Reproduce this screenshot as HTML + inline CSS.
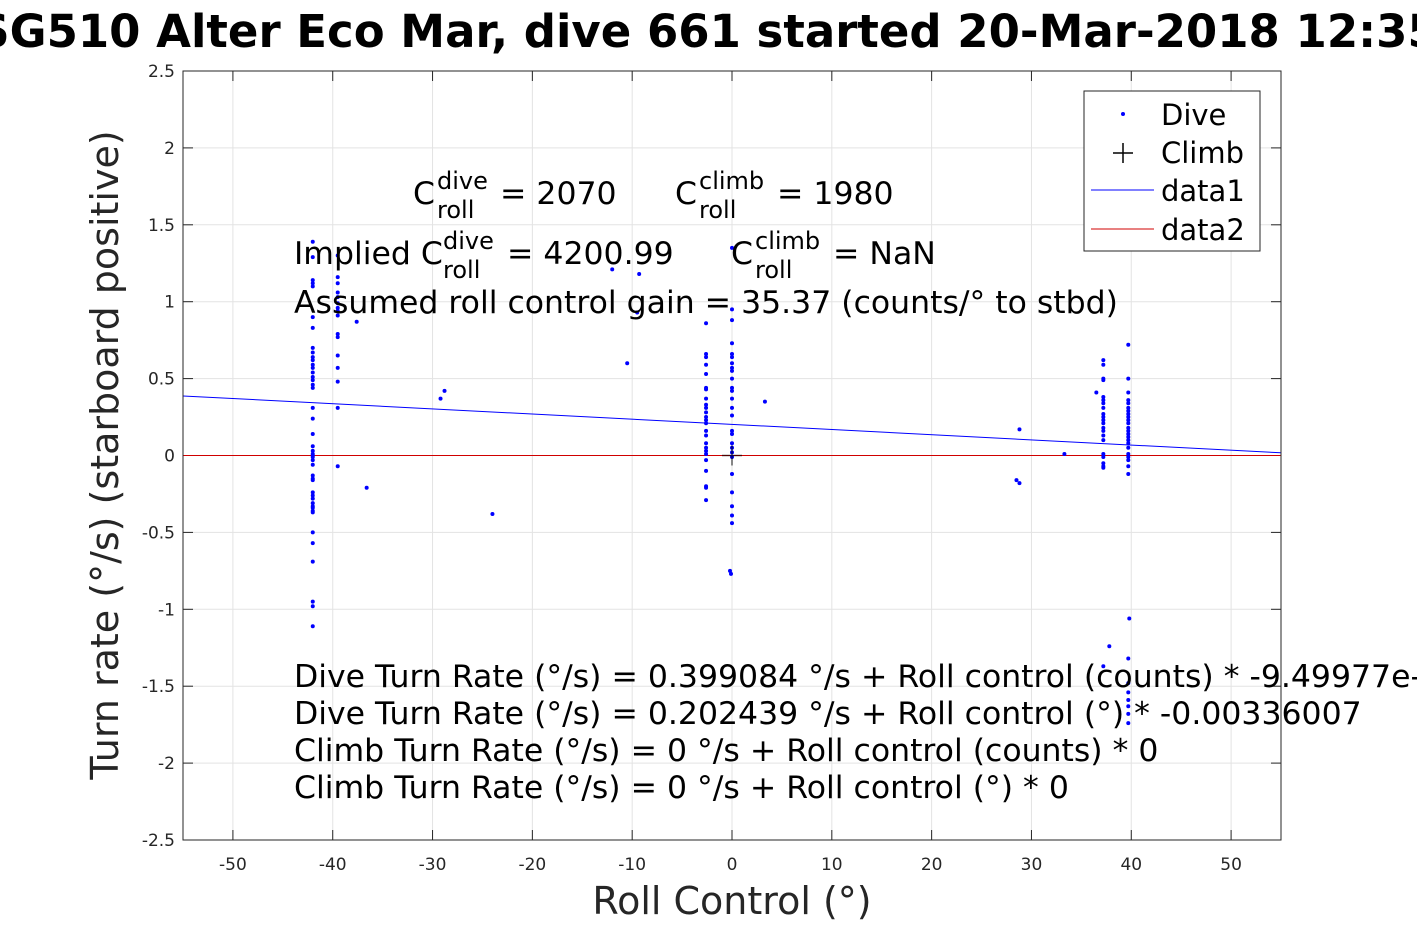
<!DOCTYPE html>
<html><head><meta charset="utf-8"><style>
html,body{margin:0;padding:0;background:#fff;overflow:hidden;}
svg{display:block;font-family:"DejaVu Sans","Liberation Sans",sans-serif;}
</style></head><body>
<svg id="chart" width="1417" height="945" viewBox="0 0 1417 945" xmlns="http://www.w3.org/2000/svg">
<rect x="0" y="0" width="1417" height="945" fill="#fff"/>
<text x="708" y="47" text-anchor="middle" font-size="45" font-weight="bold" fill="#000">SG510 Alter Eco Mar, dive 661 started 20-Mar-2018 12:35</text>
<rect x="183" y="71" width="1098" height="769" fill="#fff"/>
<g id="grid"></g>
<g id="ticks"></g>
<g id="lines"></g>
<g id="points"></g>
<rect x="183" y="71" width="1098" height="769" fill="none" stroke="#262626" stroke-width="1"/>
<text x="732" y="914" text-anchor="middle" font-size="38" fill="#262626">Roll Control (°)</text>
<text transform="translate(118,455) rotate(-90)" text-anchor="middle" font-size="38" fill="#262626">Turn rate (°/s) (starboard positive)</text>
<g font-size="31.5" fill="#000">
<g>
<text x="413" y="204">C</text><text x="437" y="189" font-size="24">dive</text><text x="437" y="218" font-size="24">roll</text><text x="500" y="204">= 2070</text></g>
<g>
<text x="675" y="204">C</text><text x="699" y="189" font-size="24">climb</text><text x="699" y="218" font-size="24">roll</text><text x="777" y="204">= 1980</text></g>
<g>
<text x="294" y="264">Implied C</text><text x="443" y="249" font-size="24">dive</text><text x="443" y="278" font-size="24">roll</text><text x="507" y="264">= 4200.99</text></g>
<g>
<text x="731" y="264">C</text><text x="755" y="249" font-size="24">climb</text><text x="755" y="278" font-size="24">roll</text><text x="833" y="264">= NaN</text></g>
<text x="294" y="313">Assumed roll control gain = 35.37 (counts/° to stbd)</text>
<text x="294" y="687">Dive Turn Rate (°/s) = 0.399084 °/s + Roll control (counts) * -9.49977e-05</text>
<text x="294" y="724">Dive Turn Rate (°/s) = 0.202439 °/s + Roll control (°) * -0.00336007</text>
<text x="294" y="761">Climb Turn Rate (°/s) = 0 °/s + Roll control (counts) * 0</text>
<text x="294" y="798">Climb Turn Rate (°/s) = 0 °/s + Roll control (°) * 0</text>
</g>
<g>
<rect x="1084" y="91" width="176" height="160" fill="#fff" stroke="#262626" stroke-width="1"/>
<circle cx="1123" cy="114" r="2" fill="#0000ff"/>
<text x="1161" y="125" font-size="29" fill="#000">Dive</text>
<path d="M1113 153 H1133 M1123 143 V163" stroke="#000" stroke-width="1.5"/>
<text x="1161" y="163" font-size="29" fill="#000">Climb</text>
<line x1="1091" y1="190" x2="1154" y2="190" stroke="#0000ff"/>
<text x="1161" y="201" font-size="29" fill="#000">data1</text>
<line x1="1091" y1="229" x2="1154" y2="229" stroke="#d00000"/>
<text x="1161" y="240" font-size="29" fill="#000">data2</text>
</g>
</svg>
<script>
const xTicks=[-50,-40,-30,-20,-10,0,10,20,30,40,50];
const yTicks=[-2.5,-2,-1.5,-1,-0.5,0,0.5,1,1.5,2,2.5];
const diveX=[
-42,-42,-42,-42,-42,-42,-42,-42,-42,-42,-42,-42,-42,-42,-42,-42,-42,-42,-42,-42,-42,-42,-42,-42,-42,-42,-42,-42,-42,-42,-42,-42,-42,-42,-42,-42,-42,-42,-42,-42,-42,-42,-42,-42,-42,
-39.5,-39.5,-39.5,-39.5,-39.5,-39.5,-39.5,-39.5,-39.5,-39.5,-39.5,-39.5,-39.5,-39.5,-39.5,-39.5,
-37.6,-36.6,-29.2,-28.8,-24,-12,-10.5,-9.3,-9.5,3.3,
-2.6,-2.6,-2.6,-2.6,-2.6,-2.6,-2.6,-2.6,-2.6,-2.6,-2.6,-2.6,-2.6,-2.6,-2.6,-2.6,-2.6,-2.6,-2.6,-2.6,-2.6,-2.6,-2.6,-2.6,-2.6,
0,0,0,0,0,0,0,0,0,0,0,0,0,0,0,0,0,0,0,0,0,0,0,0,0,0,-0.2,-0.1,
28.5,28.8,28.8,33.3,
37.2,37.2,37.2,37.2,36.5,37.2,37.2,37.2,37.2,37.2,37.2,37.2,37.2,37.2,37.2,37.2,37.2,37.2,37.2,37.2,37.2,37.2,37.8,37.2,
39.7,39.7,39.7,39.7,39.7,39.7,39.7,39.7,39.7,39.7,39.7,39.7,39.7,39.7,39.7,39.7,39.7,39.7,39.7,39.7,39.7,39.7,39.7,
39.8,39.7,39.7,39.7,39.7,39.7,39.7,39.7];
const diveY=[
1.39,1.29,1.14,1.12,1.10,0.90,0.83,0.70,0.67,0.64,0.62,0.59,0.57,0.54,0.51,0.49,0.46,0.44,0.31,0.24,0.14,0.06,0.03,0.01,0,-0.01,-0.03,-0.06,-0.13,-0.15,-0.16,-0.24,-0.26,-0.28,-0.31,-0.33,-0.34,-0.36,-0.37,-0.50,-0.57,-0.69,-0.95,-0.98,-1.11,
1.30,1.16,1.12,1.06,1.03,0.99,0.96,0.94,0.91,0.79,0.77,0.65,0.57,0.48,0.31,-0.07,
0.87,-0.21,0.37,0.42,-0.38,1.21,0.60,1.18,0.93,0.35,
0.86,0.66,0.64,0.59,0.53,0.44,0.43,0.37,0.33,0.31,0.28,0.25,0.23,0.21,0.16,0.13,0.08,0.05,0.03,0.01,-0.03,-0.10,-0.20,-0.21,-0.29,
1.35,0.95,0.88,0.73,0.66,0.64,0.60,0.57,0.55,0.50,0.44,0.42,0.37,0.31,0.26,0.16,0.14,0.08,0.05,0.02,-0.01,-0.12,-0.24,-0.33,-0.39,-0.44,-0.75,-0.77,
-0.16,-0.18,0.17,0.01,
0.62,0.59,0.50,0.49,0.41,0.38,0.36,0.34,0.31,0.27,0.25,0.23,0.21,0.18,0.16,0.13,0.10,0.01,-0.01,-0.05,-0.07,-0.08,-1.24,-1.37,
0.72,0.50,0.41,0.36,0.34,0.31,0.29,0.27,0.25,0.23,0.21,0.18,0.16,0.14,0.12,0.10,0.08,0.05,0.01,-0.01,-0.03,-0.07,-0.12,
-1.06,-1.32,-1.48,-1.54,-1.59,-1.63,-1.68,-1.74];
const climbX=[0];
const climbY=[0];
const fitIntercept=[0.202439];
const fitSlope=[-0.00336007];
const xDomain=[-55,55];
const yDomain=[-2.5,2.5];

const NS='http://www.w3.org/2000/svg';
const PL=183,PR=1281,PT=71,PB=840;
function sx(v){return PL+(v-xDomain[0])/(xDomain[1]-xDomain[0])*(PR-PL);}
function sy(v){return PB-(v-yDomain[0])/(yDomain[1]-yDomain[0])*(PB-PT);}
function mk(tag,attrs,parent){const e=document.createElementNS(NS,tag);for(const k in attrs)e.setAttribute(k,attrs[k]);parent.appendChild(e);return e;}
const grid=document.getElementById('grid'),ticks=document.getElementById('ticks'),lines=document.getElementById('lines'),pts=document.getElementById('points');
xTicks.forEach(t=>{
  const g=mk('line',{x1:sx(t),x2:sx(t),y1:PT,y2:PB,stroke:'#e3e3e3','stroke-width':1},grid);
  
  
  mk('line',{x1:sx(t),x2:sx(t),y1:PB,y2:PB-10,stroke:'#262626'},ticks);
  mk('line',{x1:sx(t),x2:sx(t),y1:PT,y2:PT+10,stroke:'#262626'},ticks);
  const tx=mk('text',{x:sx(t),y:PB+30,'text-anchor':'middle','font-size':17,fill:'#262626'},ticks);
  tx.textContent=String(t);
  
  
});
yTicks.forEach(t=>{
  const g=mk('line',{x1:PL,x2:PR,y1:sy(t),y2:sy(t),stroke:'#e3e3e3','stroke-width':1},grid);
  
  
  mk('line',{x1:PL,x2:PL+10,y1:sy(t),y2:sy(t),stroke:'#262626'},ticks);
  mk('line',{x1:PR,x2:PR-10,y1:sy(t),y2:sy(t),stroke:'#262626'},ticks);
  const tx=mk('text',{x:PL-8,y:sy(t)+6,'text-anchor':'end','font-size':17,fill:'#262626'},ticks);
  tx.textContent=String(t);
  
  
});
const l1=mk('line',{x1:sx(xDomain[0]),y1:sy(fitIntercept[0]+fitSlope[0]*xDomain[0]),x2:sx(xDomain[1]),y2:sy(fitIntercept[0]+fitSlope[0]*xDomain[1]),stroke:'#0000ff','stroke-width':1},lines);


const l2=mk('line',{x1:sx(xDomain[0]),y1:sy(0),x2:sx(xDomain[1]),y2:sy(0),stroke:'#d00000','stroke-width':1},lines);


diveX.forEach((x,i)=>{
  const c=mk('circle',{cx:sx(x),cy:sy(diveY[i]),r:2,fill:'#0000ff'},pts);
  
  
});
climbX.forEach((x,i)=>{
  const px=sx(x),py=sy(climbY[i]);
  const p=mk('path',{d:`M${px-10} ${py} H${px+10} M${px} ${py-10} V${py+10}`,stroke:'#000','stroke-width':1.5,opacity:0.6},pts);
  
  
});
</script>
</body></html>
